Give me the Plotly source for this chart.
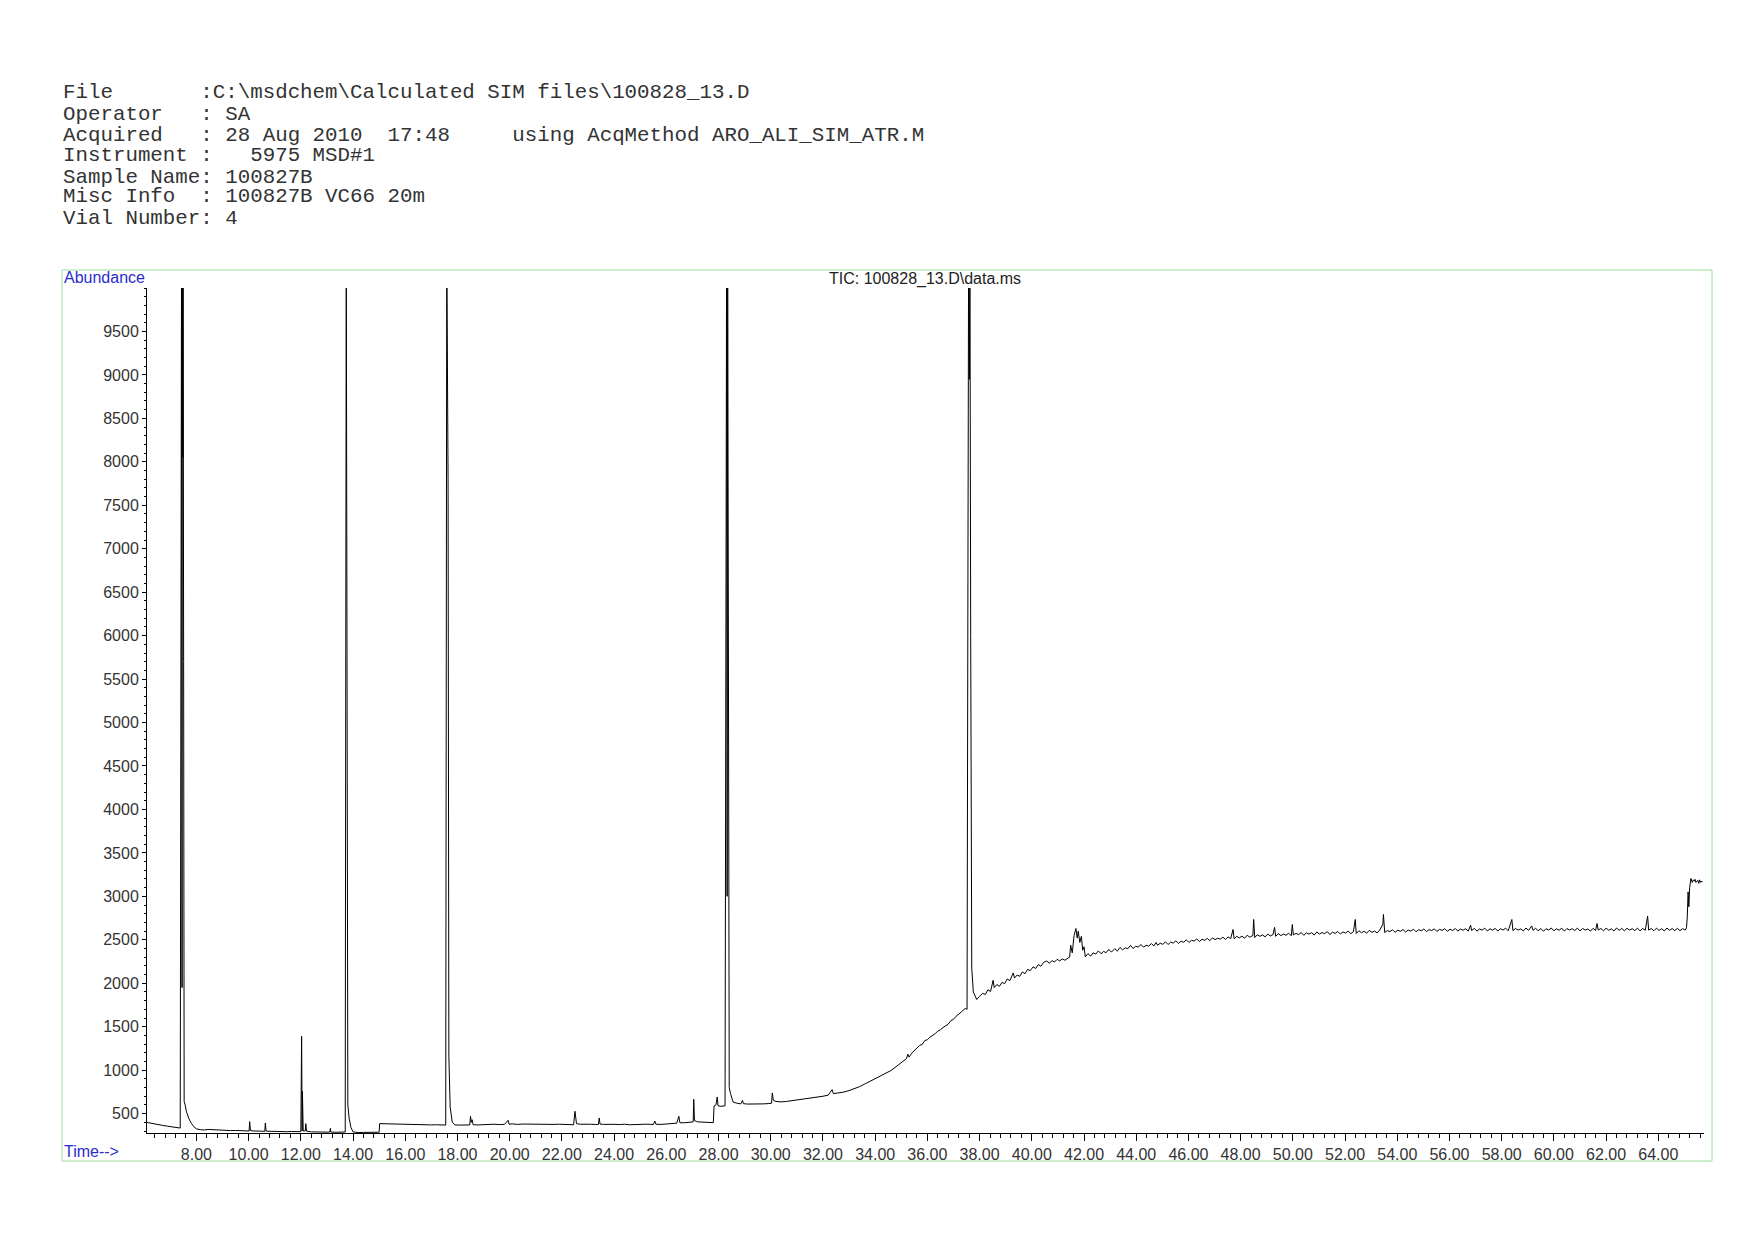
import plotly.graph_objects as go

# --- header text of the MSD report ---
header_lines = [
    r"File       :C:\msdchem\Calculated SIM files\100828_13.D",
    r"Operator   : SA",
    r"Acquired   : 28 Aug 2010  17:48     using AcqMethod ARO_ALI_SIM_ATR.M",
    r"Instrument :   5975 MSD#1",
    r"Sample Name: 100827B",
    r"Misc Info  : 100827B VC66 20m",
    r"Vial Number: 4",
]
chart_title = r"TIC: 100828_13.D\data.ms"

# --- TIC trace (time in min, abundance) ---
t_early = [6.11, 6.20, 6.35, 6.50, 6.70, 6.90, 7.10, 7.25, 7.38,
           7.43, 7.45, 7.46, 7.48, 7.49, 7.51, 7.53, 7.56, 7.62, 7.70, 7.80, 7.90,
           8.00, 8.15, 8.30, 8.45, 8.55, 8.70, 8.90, 9.10, 9.30, 9.50, 9.70, 9.90,
           10.02, 10.04, 10.07, 10.20, 10.35, 10.50, 10.62, 10.64, 10.67, 10.85,
           11.05, 11.25, 11.45, 11.65, 11.85, 12.00, 12.03, 12.05, 12.06, 12.09,
           12.17, 12.19, 12.22, 12.40, 12.60, 12.80, 13.00, 13.11, 13.13, 13.15,
           13.35, 13.55, 13.70, 13.74, 13.77, 13.78, 13.80, 13.85, 13.92, 14.00,
           14.20, 14.40, 14.60, 14.80, 15.00, 15.02, 15.20, 15.40, 15.60, 15.80,
           16.00, 16.20, 16.40, 16.60, 16.80, 17.00, 17.20, 17.40, 17.55]
a_early = [398, 392, 380, 372, 365, 355, 347, 340, 334,
           10500, 1950, 10500, 8050, 10500, 5700, 640, 610, 520, 450, 390, 350,
           325, 315, 312, 318, 316, 310, 312, 308, 305, 306, 304, 302,
           300, 408, 305, 300, 302, 298, 296, 392, 298, 295,
           293, 296, 292, 294, 290, 292, 1390, 300, 757, 300,
           302, 385, 298, 290, 292, 288, 287, 288, 330, 287,
           286, 286, 288, 10500, 4850, 3100, 600, 446, 340, 290,
           282, 284, 283, 285, 286, 385, 383, 380, 378, 376,
           377, 374, 372, 374, 371, 370, 372, 369, 368]

t_mid = [17.59, 17.62, 17.64, 17.67, 17.72, 17.80, 17.90, 18.10, 18.30, 18.47,
         18.50, 18.53, 18.56, 18.60, 18.80, 19.00, 19.20, 19.40, 19.60, 19.80,
         19.94, 19.98, 20.10, 20.30, 20.50, 20.70, 20.90, 21.10, 21.30, 21.50,
         21.70, 21.90, 22.10, 22.30, 22.45, 22.50, 22.53, 22.56, 22.70, 22.90,
         23.10, 23.30, 23.40, 23.43, 23.46, 23.60, 23.80, 24.00, 24.20, 24.40,
         24.60, 24.80, 25.00, 25.20, 25.37, 25.50, 25.56, 25.60, 25.80, 26.00,
         26.20, 26.40, 26.48, 26.52, 26.70, 26.90, 27.03, 27.05, 27.08, 27.20,
         27.40, 27.60, 27.80, 27.83, 27.90, 27.95, 27.98, 28.10, 28.25,
         28.31, 28.33, 28.35, 28.38, 28.41, 28.46, 28.56, 28.70, 28.85, 28.92,
         28.95, 29.10, 29.30, 29.50, 29.70, 29.90, 30.03, 30.06, 30.10, 30.20,
         30.40, 30.60, 30.80, 31.00, 31.20, 31.40, 31.60, 31.80, 32.00, 32.20,
         32.35, 32.40, 32.60, 32.80, 33.00, 33.20, 33.40, 33.60, 33.80, 34.00,
         34.20, 34.40, 34.60, 34.80, 35.00, 35.10, 35.20, 35.25, 35.30, 35.40,
         35.50, 35.60, 35.71, 35.80, 35.90, 36.00, 36.10, 36.22, 36.30, 36.40,
         36.50, 36.60, 36.73, 36.80, 36.90, 37.00, 37.10, 37.20, 37.30, 37.37,
         37.45, 37.52]
a_mid = [10500, 9300, 7800, 1160, 576, 400, 370, 368, 372, 370,
         469, 400, 430, 372, 370, 375, 372, 378, 374, 376,
         423, 378, 382, 376, 380, 378, 382, 376, 380, 378,
         376, 378, 374, 376, 372, 527, 420, 385, 378, 374,
         378, 375, 376, 450, 380, 376, 380, 377, 374, 378,
         372, 376, 372, 378, 377, 374, 415, 378, 376, 382,
         385, 390, 469, 395, 395, 400, 405, 665, 420, 405,
         400, 398, 396, 588, 600, 691, 590, 584, 590,
         10500, 3000, 10500, 2950, 800, 730, 634, 620, 612, 653,
         615, 610, 608, 607, 612, 615, 620, 738, 653, 640,
         635, 640, 648, 655, 662, 668, 678, 690, 700, 712,
         776, 730, 735, 748, 765, 785, 810, 840, 870, 905,
         935, 965, 995, 1040, 1090, 1105, 1133, 1184, 1150, 1195,
         1220, 1255, 1286, 1295, 1340, 1350, 1380, 1401, 1420, 1450,
         1465, 1490, 1517, 1530, 1570, 1585, 1620, 1640, 1670, 1689,
         1710, 1700]

t_late = [37.58, 37.61, 37.63, 37.66, 37.70, 37.76, 37.82, 37.89,
          38.00, 38.12, 38.22, 38.32, 38.42, 38.52, 38.56, 38.66, 38.76, 38.86,
          38.96, 39.06, 39.16, 39.29, 39.34, 39.44, 39.54, 39.64, 39.74, 39.84,
          39.94, 40.05, 40.15, 40.25, 40.35, 40.45, 40.57, 40.67, 40.77, 40.87,
          40.97, 41.07, 41.17, 41.27, 41.39, 41.45,
          41.49, 41.55, 41.62, 41.69, 41.74, 41.78, 41.84, 41.90, 41.95, 42.00,
          42.05, 42.15, 42.25, 42.35, 42.45, 42.55, 42.65, 42.75, 42.85, 42.95,
          43.05, 43.18, 43.28, 43.38, 43.48, 43.58, 43.68, 43.78, 43.88, 43.98,
          44.08, 44.18, 44.28, 44.38, 44.48, 44.58, 44.68, 44.76, 44.82, 44.92,
          45.02, 45.12, 45.22, 45.32, 45.42, 45.52, 45.62, 45.72, 45.82, 45.92,
          46.02, 46.12, 46.22, 46.32, 46.42, 46.52, 46.62, 46.72, 46.82, 46.92,
          47.02, 47.12, 47.22, 47.32, 47.42, 47.52, 47.62, 47.71, 47.75, 47.85,
          47.95, 48.05, 48.15, 48.25, 48.35, 48.47, 48.50, 48.54, 48.64, 48.74,
          48.84, 48.94, 49.04, 49.14, 49.24, 49.30, 49.34, 49.44, 49.54, 49.64,
          49.74, 49.84, 49.94, 49.98, 50.02, 50.12, 50.22, 50.32, 50.42, 50.52,
          50.62, 50.72, 50.82, 50.92, 51.02, 51.12, 51.22, 51.32, 51.42, 51.52,
          51.62, 51.72, 51.82, 51.92, 52.02, 52.12, 52.22, 52.32, 52.39, 52.43,
          52.53, 52.63, 52.73, 52.83, 52.93, 53.03, 53.13, 53.23, 53.33, 53.45,
          53.47, 53.52, 53.62, 53.72, 53.82, 53.92, 54.02, 54.12, 54.22, 54.32,
          54.42, 54.52, 54.62, 54.72, 54.82, 54.92, 55.02, 55.12, 55.22, 55.32,
          55.42, 55.52, 55.62, 55.72, 55.82, 55.92, 56.02, 56.12, 56.22, 56.32,
          56.42, 56.52, 56.62, 56.72, 56.81, 56.85, 56.95, 57.05, 57.15, 57.25,
          57.35, 57.45, 57.55, 57.65, 57.75, 57.85, 57.95, 58.05, 58.15, 58.25,
          58.39, 58.43, 58.53, 58.63, 58.73, 58.83, 58.93, 59.03, 59.15, 59.20,
          59.30, 59.40, 59.50, 59.60, 59.70, 59.80, 59.90, 60.00, 60.10, 60.20,
          60.30, 60.40, 60.50, 60.60, 60.70, 60.80, 60.90, 61.00, 61.10, 61.20,
          61.30, 61.40, 61.50, 61.60, 61.65, 61.70, 61.80, 61.90, 62.00, 62.10,
          62.20, 62.30, 62.40, 62.50, 62.60, 62.70, 62.80, 62.90, 63.00, 63.10,
          63.20, 63.30, 63.40, 63.50, 63.59, 63.63, 63.73, 63.83, 63.93, 64.03,
          64.13, 64.23, 64.33, 64.43, 64.53, 64.63, 64.73, 64.83, 64.93, 65.03,
          65.08, 65.11, 65.14, 65.17, 65.20, 65.25, 65.30, 65.34, 65.38, 65.41,
          65.44, 65.48, 65.51, 65.55, 65.58, 65.61, 65.64, 65.67, 65.70]
a_late = [10500, 8950, 10500, 6000, 2173, 1900, 1862, 1813,
          1850, 1885, 1870, 1925, 1905, 2035, 1950, 1985, 1965, 2010,
          1995, 2050, 2030, 2119, 2060, 2095, 2080, 2130, 2110, 2160,
          2145, 2188, 2170, 2215, 2195, 2240, 2257, 2230, 2260, 2245,
          2275, 2258, 2280, 2265, 2290, 2300,
          2438, 2350, 2550, 2630, 2520, 2600, 2470, 2540, 2380, 2420,
          2303, 2342, 2312, 2350, 2336, 2372, 2340, 2366, 2352, 2390,
          2358, 2398, 2370, 2412, 2384, 2408, 2398, 2436, 2400, 2426,
          2415, 2446, 2416, 2436, 2428, 2456, 2430, 2470, 2438, 2460,
          2448, 2476, 2446, 2474, 2462, 2488, 2458, 2484, 2472, 2500,
          2470, 2494, 2486, 2510, 2480, 2506, 2494, 2516, 2490, 2522,
          2502, 2518, 2508, 2530, 2504, 2534, 2514, 2619, 2512, 2540,
          2522, 2542, 2518, 2552, 2530, 2550, 2734, 2526, 2558, 2540,
          2556, 2534, 2566, 2544, 2560, 2642, 2540, 2572, 2548, 2566,
          2552, 2576, 2546, 2676, 2556, 2574, 2560, 2584, 2552, 2580,
          2566, 2582, 2556, 2590, 2566, 2584, 2570, 2594, 2560, 2588,
          2574, 2596, 2566, 2590, 2578, 2600, 2570, 2594, 2734, 2572,
          2604, 2582, 2598, 2576, 2608, 2586, 2600, 2580, 2612, 2680,
          2792, 2584, 2606, 2594, 2616, 2586, 2610, 2598, 2618, 2590,
          2612, 2600, 2622, 2592, 2616, 2604, 2624, 2594, 2618, 2606,
          2626, 2596, 2620, 2608, 2628, 2598, 2622, 2606, 2630, 2600,
          2624, 2610, 2628, 2600, 2668, 2606, 2632, 2600, 2624, 2612,
          2634, 2602, 2626, 2610, 2632, 2600, 2628, 2612, 2634, 2604,
          2734, 2606, 2630, 2612, 2626, 2602, 2636, 2608, 2660, 2610,
          2632, 2604, 2630, 2598, 2628, 2612, 2636, 2604, 2626, 2610,
          2634, 2600, 2630, 2612, 2628, 2606, 2635, 2602, 2630, 2612,
          2624, 2600, 2632, 2608, 2688, 2612, 2630, 2604, 2634, 2610,
          2626, 2602, 2636, 2610, 2630, 2604, 2632, 2612, 2628, 2606,
          2634, 2602, 2630, 2610, 2772, 2612, 2630, 2604, 2634, 2608,
          2628, 2602, 2636, 2610, 2630, 2606, 2632, 2604, 2628, 2612,
          2640, 2764, 3052, 2880, 3100, 3206, 3160, 3190, 3175, 3195,
          3160, 3170, 3185, 3150, 3190, 3160, 3175, 3165, 3170]

abundance_ticks = [500, 1000, 1500, 2000, 2500, 3000, 3500, 4000, 4500, 5000,
                   5500, 6000, 6500, 7000, 7500, 8000, 8500, 9000, 9500]

time_min = t_early + t_mid + t_late
abundance = a_early + a_mid + a_late

# the page body adds an 8 px offset, so the figure is drawn 16 px smaller
OFF = 8
W, H = 1754 - 2 * OFF, 1240 - 2 * OFF
L, R, T, B = 139, 42, 280, 99
PW, PH = W - L - R, H - T - B


def paper_x(px):
    # px is a position on the 1754 x 1240 page
    return (px - OFF - L) / PW


def paper_y(py):
    return (H - B - (py - OFF)) / PH


fig = go.Figure()

fig.add_trace(go.Scatter(
    x=time_min,
    y=abundance,
    mode='lines',
    line=dict(color='black', width=1),
    showlegend=False,
    hovertemplate='%{x:.2f} min<br>%{y:.0f}<extra></extra>'
))

fig.update_layout(
    width=W,
    height=H,
    autosize=False,
    margin=dict(l=L, r=R, t=T, b=B, pad=0),
    paper_bgcolor='white',
    plot_bgcolor='white',
    font=dict(family='Liberation Sans, Arial, sans-serif', size=16, color='#222222'),
    xaxis=dict(
        range=[6.107, 65.75],
        tickmode='linear', tick0=0, dtick=2, tickformat='.2f',
        ticks='outside', ticklen=7, tickcolor='black', tickwidth=1,
        showline=True, linecolor='black', linewidth=1,
        showgrid=False, zeroline=False,
        minor=dict(tickmode='linear', tick0=0, dtick=0.4, ticks='outside',
                   ticklen=4, tickcolor='black', showgrid=False),
        tickfont=dict(size=16, color='#333333'),
    ),
    yaxis=dict(
        range=[277, 10000],
        tickmode='array', tickvals=abundance_ticks,
        ticks='outside', ticklen=4, tickcolor='black', tickwidth=1,
        showline=True, linecolor='black', linewidth=1,
        showgrid=False, zeroline=False,
        minor=dict(tickmode='linear', tick0=0, dtick=100, ticks='outside',
                   ticklen=2, tickcolor='black', showgrid=False),
        tickfont=dict(size=16, color='#333333'),
    ),
)

# green frame around the chart
fig.add_shape(type='rect', xref='paper', yref='paper',
              x0=paper_x(62), x1=paper_x(1712), y0=paper_y(1161), y1=paper_y(270),
              line=dict(color='#9be09b', width=1), fillcolor='rgba(0,0,0,0)', layer='below')

# header block
header_y = [93, 114, 135, 156, 177, 197, 218]
for line, py in zip(header_lines, header_y):
    fig.add_annotation(
        text=line.replace(' ', '\u00a0'),
        xref='paper', yref='paper', x=paper_x(61), y=paper_y(py),
        xanchor='left', yanchor='middle', showarrow=False,
        font=dict(family='Liberation Mono, Courier New, monospace', size=20.8, color='#333333'),
    )

fig.add_annotation(text=chart_title, xref='paper', yref='paper',
                   x=paper_x(925), y=paper_y(279), xanchor='center', yanchor='middle',
                   showarrow=False, font=dict(size=16, color='#222222'))
fig.add_annotation(text='Abundance', xref='paper', yref='paper',
                   x=paper_x(62), y=paper_y(278), xanchor='left', yanchor='middle',
                   showarrow=False, font=dict(size=16, color='#2b2bd0'))
fig.add_annotation(text='Time-->', xref='paper', yref='paper',
                   x=paper_x(62), y=paper_y(1151), xanchor='left', yanchor='middle',
                   showarrow=False, font=dict(size=16, color='#2b2bd0'))

fig.write_html("out.html")
